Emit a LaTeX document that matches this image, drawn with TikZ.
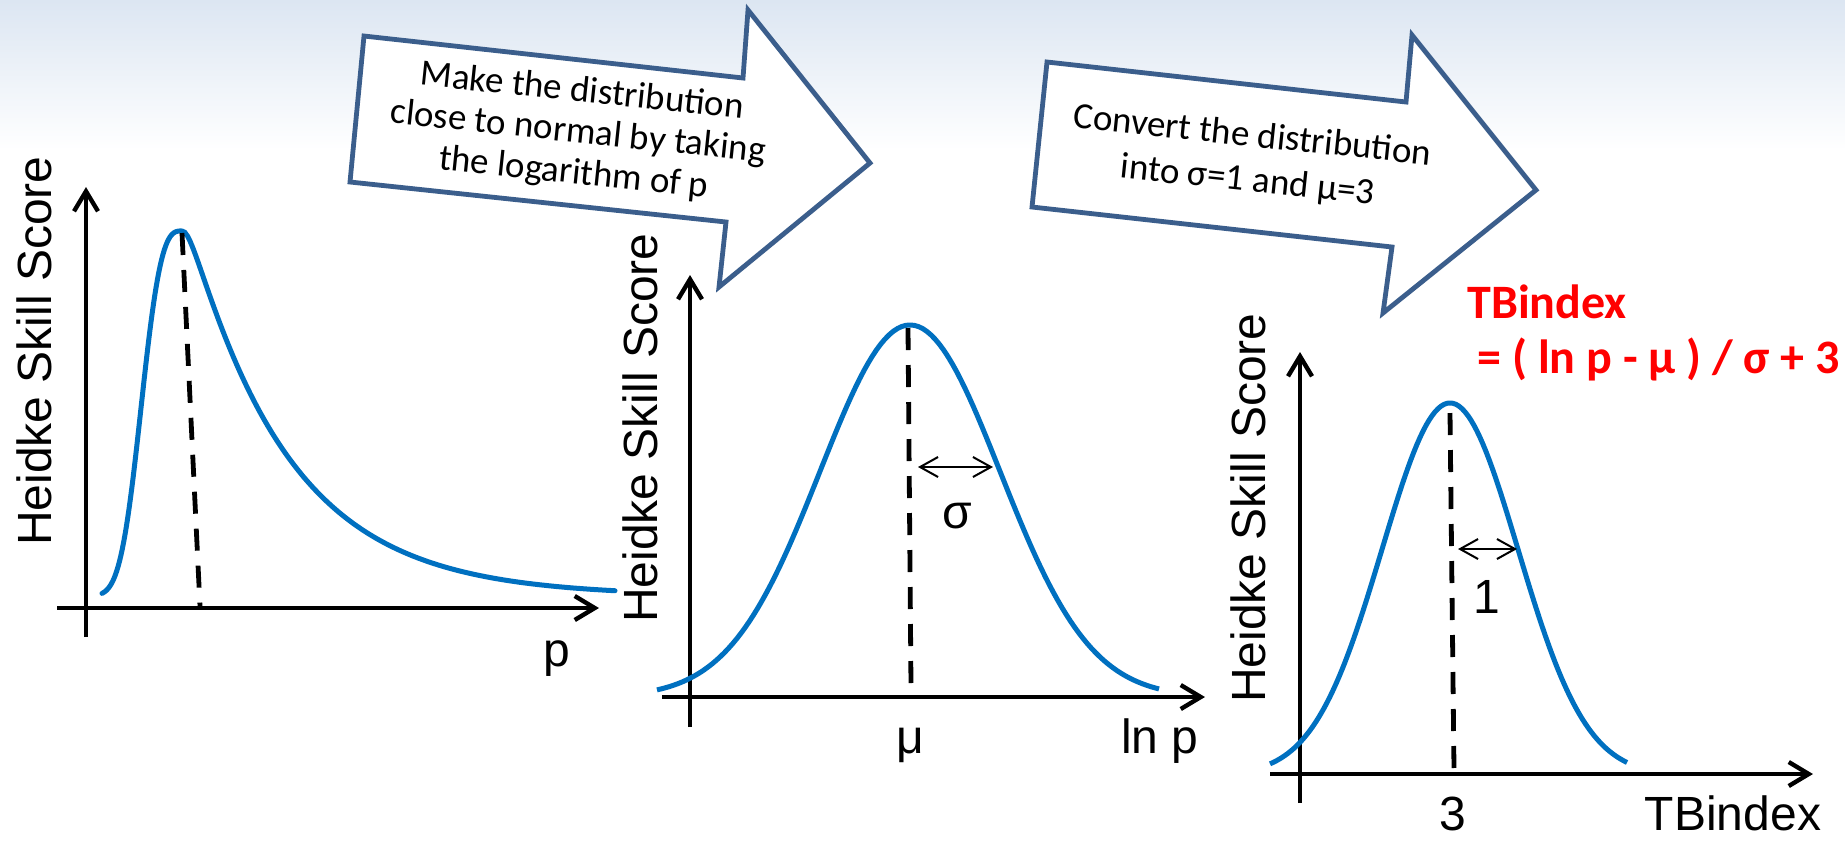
\documentclass[tikz,border=0pt]{standalone}
\usepackage{fontspec}
\setmainfont{Liberation Sans}
\newfontfamily\calib{Carlito}
\usetikzlibrary{arrows.meta}
\definecolor{curveblue}{HTML}{0070C0}
\definecolor{arrowedge}{HTML}{3B5E8C}
\definecolor{bgtop}{HTML}{DCE6F2}
\begin{document}
\begin{tikzpicture}[x=0.5pt,y=-0.5pt,
  axisline/.style={line width=2.2pt,-{Straight Barb[length=10pt,width=12pt]}},
  curveline/.style={draw=curveblue,line width=2.5pt},
  meanline/.style={line width=2.4pt,dash pattern=on 11pt off 7.5pt},
  spreadarrow/.style={line width=1pt,{Straight Barb[length=9pt,width=10pt]}-{Straight Barb[length=9pt,width=10pt]}},
  bigarrow/.style={draw=arrowedge,fill=white,line width=2.4pt,line join=miter},
  arrowtext/.style={font=\calib\fontsize{18.5}{20.5}\selectfont,align=center,rotate=-6,inner sep=0pt},
  axislabel/.style={font=\fontsize{24}{28}\selectfont,inner sep=0pt},
  redtext/.style={font=\calib\bfseries\fontsize{24}{28}\selectfont,text=red,inner sep=0pt,anchor=base west}]
\useasboundingbox (0,0) rectangle (1845,843);
\fill[white] (0,0) rectangle (1845,843);
\shade[top color=bgtop,bottom color=white] (0,0) rectangle (1845,150);

% process arrows
\draw[bigarrow] (364,36) -- (743,78) -- (748,10) -- (870,163) -- (719,287) -- (726,222) -- (350,182) -- cycle;
\node[arrowtext] (t1) at (578,133) {Make the distribution\\close to normal by taking\\the logarithm of p};
\draw[bigarrow] (1047,62) -- (1406,102) -- (1412,35) -- (1536,190) -- (1383,313) -- (1392,247) -- (1032,207) -- cycle;
\node[arrowtext,font=\calib\fontsize{18.5}{22.5}\selectfont] (t2) at (1250,159) {Convert the distribution\\into σ=1 and μ=3};

% formula
\node[redtext] (f1) at (1467,318) {TBindex};
\node[redtext] (f2) at (1477,373) {= ( ln p - μ ) / σ + 3};

% ---------- plot 1
\coordinate (y1b) at (86,637); \coordinate (y1t) at (86,187);
\coordinate (x1l) at (57,608); \coordinate (x1r) at (599,608);
\draw[axisline] (y1b) -- (y1t);
\draw[axisline] (x1l) -- (x1r);
\draw[curveline,line cap=round] plot[domain=102:182,samples=60] (\x,{596-365*exp(-((182-\x)/47)^3)})
  -- plot[domain=182:615,samples=160] (\x,{596-365*exp(-(sqrt(((\x-182)/10)^2+1)-1)/10)});
\coordinate (m1t) at (182,233); \coordinate (m1b) at (200,606);
\draw[meanline] (m1t) -- (m1b);
\node[axislabel,rotate=90,anchor=base] (l1) at (51,351) {Heidke Skill Score};
\node[axislabel,anchor=base] (p1) at (557,666) {p};

% ---------- plot 2
\coordinate (y2b) at (690,727); \coordinate (y2t) at (690,275);
\coordinate (x2l) at (662,697); \coordinate (x2r) at (1205,697);
\draw[axisline] (y2b) -- (y2t);
\draw[axisline] (x2l) -- (x2r);
\draw[curveline] plot[domain=657:1159,samples=120] (\x,{697-372*exp(-0.5*((\x-910)/90)^2)});
\coordinate (m2t) at (908,328); \coordinate (m2b) at (911,687);
\draw[meanline] (m2t) -- (m2b);
\coordinate (s2a) at (918,467); \coordinate (s2b) at (993,467);
\draw[spreadarrow] (s2a) -- (s2b);
\node[axislabel,anchor=base] (sg) at (957,528) {σ};
\node[axislabel,anchor=base] (mu) at (910,753) {μ};
\node[axislabel,anchor=base] (lnp) at (1160,753) {ln p};
\node[axislabel,rotate=90,anchor=base] (l2) at (657,428) {Heidke Skill Score};

% ---------- plot 3
\coordinate (y3b) at (1300,803); \coordinate (y3t) at (1300,352);
\coordinate (x3l) at (1270,774); \coordinate (x3r) at (1813,774);
\draw[axisline] (y3b) -- (y3t);
\draw[axisline] (x3l) -- (x3r);
\draw[curveline] plot[domain=1270:1627,samples=120] (\x,{775-372*exp(-0.5*((\x-1450)/68)^2)});
\coordinate (m3t) at (1450,413); \coordinate (m3b) at (1454,770);
\draw[meanline] (m3t) -- (m3b);
\coordinate (s3a) at (1458,549); \coordinate (s3b) at (1517,549);
\draw[spreadarrow] (s3a) -- (s3b);
\node[axislabel,anchor=base] (one) at (1487,613) {1};
\node[axislabel,anchor=base] (three) at (1453,830) {3};
\node[axislabel,anchor=base] (tbx) at (1733,830) {TBindex};
\node[axislabel,rotate=90,anchor=base] (l3) at (1265,508) {Heidke Skill Score};
\end{tikzpicture}
\end{document}
